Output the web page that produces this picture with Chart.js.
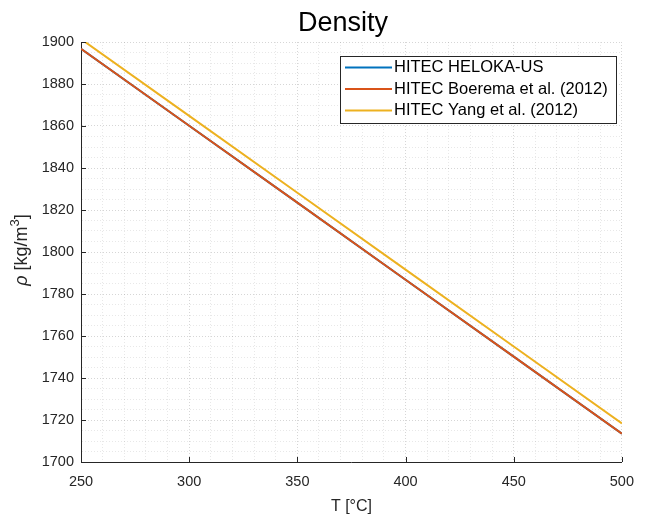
<!DOCTYPE html>
<html>
<head>
<meta charset="utf-8">
<script src="https://cdn.jsdelivr.net/npm/chart.js@4.4.3/dist/chart.umd.min.js"></script>
<style>
  html, body { margin: 0; padding: 0; background: #fff; }
  #wrap { width: 645px; height: 521px; position: relative; }
</style>
</head>
<body>
<div id="wrap"><canvas id="density"></canvas></div>
<script>
// data
const temps = [250, 300, 350, 400, 450, 500];
const helokaUS = [1896.8, 1860.1, 1823.5, 1786.8, 1750.2, 1713.5];
const boerema = [1896.8, 1860.1, 1823.5, 1786.8, 1750.2, 1713.5];
const yang = [1901.4, 1864.8, 1828.2, 1791.6, 1755.0, 1718.4];

const seriesLabels = ["HITEC HELOKA-US", "HITEC Boerema et al. (2012)", "HITEC Yang et al. (2012)"];
const seriesColors = ["#0072BD", "#D95319", "#EDB120"];

const xMajor = [250, 300, 350, 400, 450, 500];
const yMajor = [1700, 1720, 1740, 1760, 1780, 1800, 1820, 1840, 1860, 1880, 1900];

const FONT = "'Liberation Sans', Arial, Helvetica, sans-serif";
const AXIS = "#262626";

function pts(ys) {
  return temps.map((t, i) => ({ x: t, y: ys[i] }));
}

// inward tick marks, title, axis labels, legend box
const decor = {
  id: "decor",
  afterDraw(chart) {
    const { ctx, chartArea: a, scales: { x, y } } = chart;
    ctx.save();
    ctx.strokeStyle = AXIS;
    ctx.lineWidth = 1;
    ctx.beginPath();
    xMajor.forEach(v => {
      const px = Math.round(x.getPixelForValue(v)) + 0.5;
      ctx.moveTo(px, a.bottom);
      ctx.lineTo(px, a.bottom - 5);
    });
    yMajor.forEach(v => {
      const py = Math.round(y.getPixelForValue(v)) + 0.5;
      ctx.moveTo(a.left, py);
      ctx.lineTo(a.left + 5, py);
    });
    ctx.stroke();

    // title
    ctx.fillStyle = "#000";
    ctx.font = "27px " + FONT;
    ctx.textAlign = "center";
    ctx.textBaseline = "alphabetic";
    ctx.fillText("Density", 343, 31);

    // x label
    ctx.fillStyle = AXIS;
    ctx.font = "16px " + FONT;
    ctx.textBaseline = "middle";
    ctx.fillText("T [°C]", (a.left + a.right) / 2, 507);

    // y label (rho italic, superscript 3)
    ctx.save();
    ctx.translate(22, 250);
    ctx.rotate(-Math.PI / 2);
    const p1 = "ρ", p2 = " [kg/m", p3 = "3", p4 = "]";
    ctx.font = "italic 18px " + FONT;
    const w1 = ctx.measureText(p1).width;
    ctx.font = "18px " + FONT;
    const w2 = ctx.measureText(p2).width;
    const w4 = ctx.measureText(p4).width;
    ctx.font = "13px " + FONT;
    const w3 = ctx.measureText(p3).width;
    let cx = -(w1 + w2 + w3 + w4) / 2;
    ctx.textAlign = "left";
    ctx.font = "italic 18px " + FONT;
    ctx.fillText(p1, cx, 0); cx += w1;
    ctx.font = "18px " + FONT;
    ctx.fillText(p2, cx, 0); cx += w2;
    ctx.font = "13px " + FONT;
    ctx.fillText(p3, cx, -7); cx += w3;
    ctx.font = "18px " + FONT;
    ctx.fillText(p4, cx, 0);
    ctx.restore();

    // legend
    const lx = 340, ly = 56, lw = 276, lh = 67;
    ctx.fillStyle = "#fff";
    ctx.fillRect(lx, ly, lw, lh);
    ctx.strokeStyle = AXIS;
    ctx.lineWidth = 1;
    ctx.strokeRect(lx + 0.5, ly + 0.5, lw, lh);
    ctx.font = "16.5px " + FONT;
    ctx.textAlign = "left";
    ctx.textBaseline = "middle";
    seriesLabels.forEach((lab, i) => {
      const yy = ly + 11.5 + i * 21.5;
      ctx.strokeStyle = seriesColors[i];
      ctx.lineWidth = 2;
      ctx.beginPath();
      ctx.moveTo(lx + 5, yy);
      ctx.lineTo(lx + 52, yy);
      ctx.stroke();
      ctx.fillStyle = "#000";
      ctx.fillText(lab, lx + 54, yy);
    });
    ctx.restore();
  }
};

const gridColor = (ctx, majors) => {
  const v = ctx.tick ? ctx.tick.value : null;
  return majors.includes(v) ? "rgba(0,0,0,0.16)" : "rgba(0,0,0,0.09)";
};

new Chart(document.getElementById("density"), {
  type: "scatter",
  data: {
    datasets: [
      { label: seriesLabels[0], data: pts(helokaUS), borderColor: seriesColors[0], order: 3 },
      { label: seriesLabels[1], data: pts(boerema), borderColor: seriesColors[1], order: 2 },
      { label: seriesLabels[2], data: pts(yang), borderColor: seriesColors[2], order: 1 },
    ].map(d => Object.assign(d, { showLine: true, borderWidth: 2, pointRadius: 0, tension: 0 })),
  },
  options: {
    responsive: true,
    maintainAspectRatio: false,
    animation: false,
    layout: { padding: { left: 0, right: 17, top: 42, bottom: 0 } },
    plugins: { legend: { display: false }, tooltip: { enabled: false }, title: { display: false } },
    scales: {
      x: {
        type: "linear",
        min: 250, max: 500,
        afterFit: s => { s.height = 59; },
        ticks: {
          stepSize: 10,
          autoSkip: false,
          maxRotation: 0,
          padding: 11,
          color: AXIS,
          font: { family: FONT, size: 14.5 },
          callback: v => (xMajor.includes(v) ? String(v) : ""),
        },
        grid: { drawTicks: false, color: c => gridColor(c, xMajor), lineWidth: 1 },
        border: { display: true, color: AXIS, width: 1, dash: [1, 2] },
      },
      y: {
        type: "linear",
        min: 1700, max: 1900,
        afterFit: s => { s.width = 81; },
        ticks: {
          stepSize: 5,
          autoSkip: false,
          padding: 7,
          color: AXIS,
          font: { family: FONT, size: 14.5 },
          callback: v => (yMajor.includes(v) ? String(v) : ""),
        },
        grid: { drawTicks: false, color: c => gridColor(c, yMajor), lineWidth: 1 },
        border: { display: true, color: AXIS, width: 1, dash: [1, 2] },
      },
    },
  },
  plugins: [decor],
});
</script>
</body>
</html>
